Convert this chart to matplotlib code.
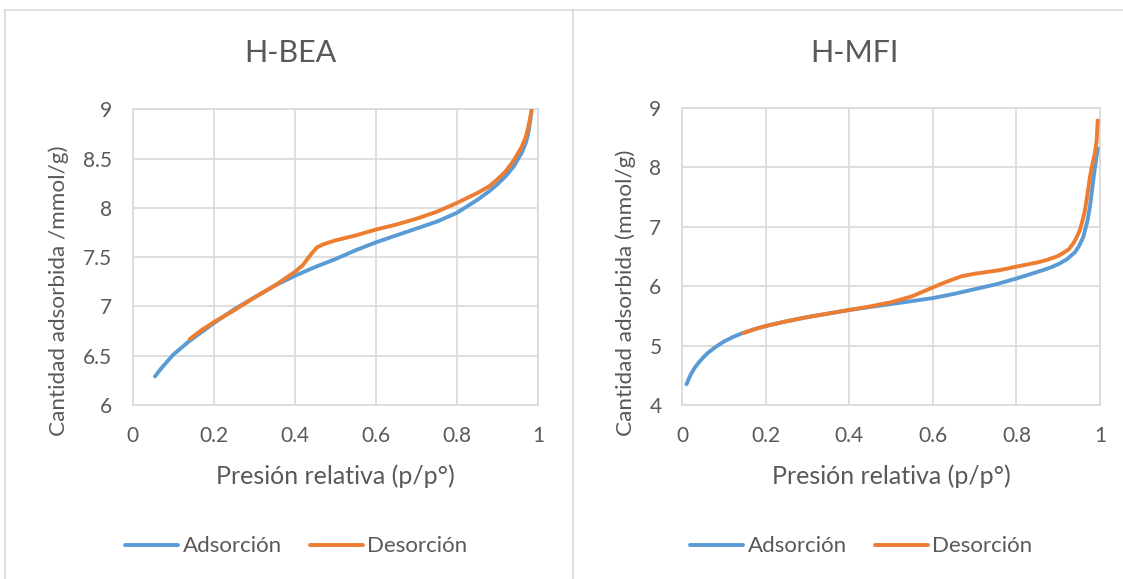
import matplotlib
matplotlib.use("Agg")
import matplotlib.pyplot as plt
from matplotlib.lines import Line2D

plt.rcParams['font.family'] = ['Lato', 'DejaVu Sans']

# H-BEA isotherm
bea_ads_p = [0.055, 0.07, 0.085, 0.10, 0.12, 0.14, 0.17, 0.20, 0.25, 0.30, 0.35, 0.40,
             0.45, 0.50, 0.55, 0.60, 0.65, 0.70, 0.75, 0.80, 0.85, 0.88, 0.90, 0.92,
             0.94, 0.95, 0.96, 0.97, 0.975, 0.98, 0.984]
bea_ads_q = [6.29, 6.37, 6.44, 6.51, 6.58, 6.65, 6.74, 6.83, 6.97, 7.09, 7.21, 7.31,
             7.40, 7.48, 7.57, 7.65, 7.72, 7.79, 7.86, 7.95, 8.08, 8.17, 8.24, 8.32,
             8.42, 8.49, 8.56, 8.66, 8.74, 8.86, 8.98]
bea_des_p = [0.984, 0.98, 0.975, 0.97, 0.96, 0.95, 0.94, 0.92, 0.90, 0.88, 0.85, 0.80,
             0.75, 0.70, 0.65, 0.60, 0.55, 0.50, 0.47, 0.455, 0.44, 0.42, 0.40, 0.35,
             0.30, 0.25, 0.20, 0.17, 0.141]
bea_des_q = [8.99, 8.90, 8.80, 8.72, 8.62, 8.55, 8.48, 8.37, 8.29, 8.22, 8.15, 8.05,
             7.96, 7.89, 7.83, 7.78, 7.72, 7.67, 7.63, 7.60, 7.53, 7.42, 7.35, 7.21,
             7.09, 6.96, 6.84, 6.76, 6.67]

# H-MFI isotherm
mfi_ads_p = [0.010, 0.02, 0.03, 0.04, 0.05, 0.06, 0.08, 0.10, 0.12, 0.14, 0.17, 0.20,
             0.25, 0.30, 0.35, 0.40, 0.45, 0.50, 0.55, 0.60, 0.65, 0.70, 0.75, 0.80,
             0.85, 0.88, 0.90, 0.92, 0.94, 0.95, 0.96, 0.97, 0.975, 0.98, 0.985,
             0.988, 0.991, 0.9945]
mfi_ads_q = [4.35, 4.51, 4.63, 4.72, 4.80, 4.87, 4.98, 5.07, 5.14, 5.20, 5.27, 5.33,
             5.41, 5.48, 5.54, 5.60, 5.65, 5.70, 5.75, 5.80, 5.87, 5.95, 6.03, 6.13,
             6.24, 6.31, 6.37, 6.45, 6.57, 6.68, 6.83, 7.10, 7.30, 7.56, 7.85,
             8.01, 8.15, 8.32]
mfi_des_p = [0.9945, 0.992, 0.988, 0.984, 0.98, 0.976, 0.97, 0.964, 0.958, 0.952,
             0.944, 0.936, 0.925, 0.912, 0.90, 0.872, 0.85, 0.80, 0.76, 0.70, 0.67,
             0.65, 0.62, 0.60, 0.57, 0.55, 0.50, 0.45, 0.40, 0.30, 0.25, 0.20, 0.17,
             0.146]
mfi_des_q = [8.79, 8.45, 8.25, 8.12, 8.00, 7.84, 7.55, 7.28, 7.10, 6.95,
             6.82, 6.72, 6.62, 6.56, 6.51, 6.44, 6.40, 6.33, 6.27, 6.21, 6.17,
             6.12, 6.04, 5.98, 5.89, 5.83, 5.73, 5.66, 5.60, 5.48, 5.41, 5.33, 5.27,
             5.21]

blue = '#5B9BD5'
orange = '#ED7D31'
grid_c = '#D9D9D9'
txt = '#595959'

W, H = 1123, 579
fig = plt.figure(figsize=(W/100, H/100), dpi=100)

# chart area borders
fig.add_artist(Line2D([5/W, 1], [1-10/H, 1-10/H], color=grid_c, lw=1.2))
fig.add_artist(Line2D([5/W, 5/W], [0, 1-10/H], color=grid_c, lw=1.2))
fig.add_artist(Line2D([573/W, 573/W], [0, 1-10/H], color=grid_c, lw=1.2))

panels = [
    dict(rect=[132.7/W, 1-405/H, 405.3/W, 295.7/H], title='H-BEA', tx=290,
         ylim=(6, 9), yticks=[6, 6.5, 7, 7.5, 8, 8.5, 9],
         yticklabels=['6', '6.5', '7', '7.5', '8', '8.5', '9'],
         ylabel='Cantidad adsorbida /mmol/g)', ylx=59,
         ads=(bea_ads_p, bea_ads_q), des=(bea_des_p, bea_des_q),
         legx=125, xlx=335.5),
    dict(rect=[682.3/W, 1-405/H, 417.7/W, 297/H], title='H-MFI', tx=854,
         ylim=(4, 9), yticks=[4, 5, 6, 7, 8, 9],
         yticklabels=['4', '5', '6', '7', '8', '9'],
         ylabel='Cantidad adsorbida (mmol/g)', ylx=626,
         ads=(mfi_ads_p, mfi_ads_q), des=(mfi_des_p, mfi_des_q),
         legx=690, xlx=891),
]

xticks = [0, 0.2, 0.4, 0.6, 0.8, 1]
xticklabels = ['0', '0.2', '0.4', '0.6', '0.8', '1']

for p in panels:
    ax = fig.add_axes(p['rect'])
    la, = ax.plot(*p['ads'], color=blue, lw=2.8, solid_capstyle='round',
                  solid_joinstyle='round', label='Adsorción', zorder=3)
    ld, = ax.plot(*p['des'], color=orange, lw=2.8, solid_capstyle='round',
                  solid_joinstyle='round', label='Desorción', zorder=4)
    ax.set_xlim(0, 1)
    ax.set_ylim(*p['ylim'])
    ax.set_xticks(xticks)
    ax.set_xticklabels(xticklabels)
    ax.set_yticks(p['yticks'])
    ax.set_yticklabels(p['yticklabels'])
    ax.grid(True, color=grid_c, lw=1.2)
    ax.set_axisbelow(True)
    for s in ax.spines.values():
        s.set_color(grid_c)
        s.set_linewidth(1.2)
    ax.tick_params(length=0, labelsize=15, colors=txt)
    ax.tick_params(axis='x', pad=15)
    ax.tick_params(axis='y', pad=15)

    fig.text(p['tx']/W, 1-53.5/H, p['title'], ha='center', va='center',
             fontsize=22, color=txt)
    # y label starts just above the x tick labels and runs upward
    fig.text(p['ylx']/W, 1-436/H, p['ylabel'], rotation=90, rotation_mode='anchor',
             ha='left', va='center', fontsize=16.2, color=txt)
    fig.text(p['xlx']/W, 1-476/H, 'Presión relativa (p/p°)',
             ha='center', va='center', fontsize=18, color=txt)

    leg = fig.legend([la, ld], ['Adsorción', 'Desorción'], loc='center left',
                     bbox_to_anchor=(p['legx']/W, 1-546.5/H), ncol=2,
                     frameon=False, fontsize=16, handlelength=2.4, handletextpad=0.2,
                     columnspacing=1.25, borderaxespad=0, borderpad=0)
    for t in leg.get_texts():
        t.set_color(txt)

fig.savefig('out.png', dpi=100, facecolor='white')
